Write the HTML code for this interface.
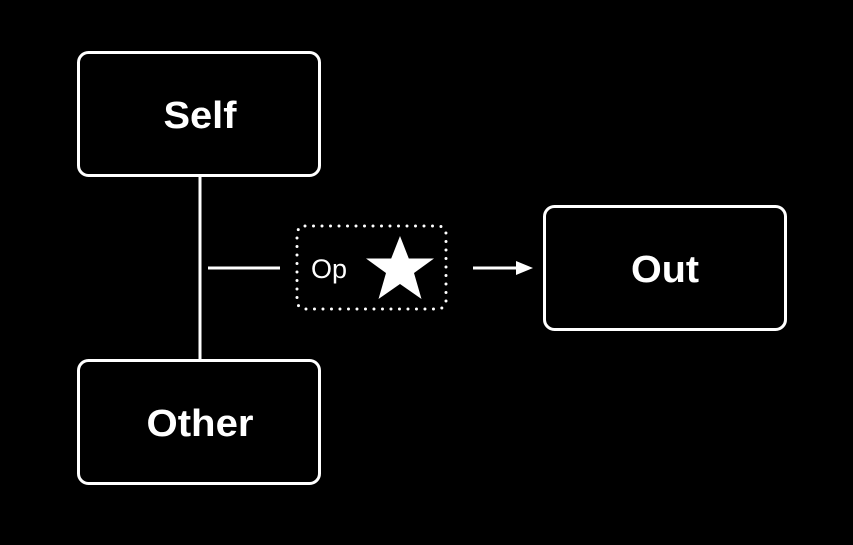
<!DOCTYPE html>
<html><head><meta charset="utf-8"><style>body{margin:0;background:#000}</style></head><body>
<svg width="853" height="545" xmlns="http://www.w3.org/2000/svg" style="display:block">
<rect width="853" height="545" fill="#000"/>
<g fill="none" stroke="#fff" stroke-width="3">
<rect x="78.5" y="52.5" width="241" height="123" rx="10"/>
<rect x="78.5" y="360.5" width="241" height="123" rx="10"/>
<rect x="544.5" y="206.5" width="241" height="123" rx="10"/>
<line x1="200" y1="176" x2="200" y2="360"/>
<line x1="208" y1="268" x2="280" y2="268"/>
<line x1="473" y1="268" x2="518" y2="268"/>
<rect x="297" y="226" width="149" height="83" rx="8" stroke-width="3" stroke-dasharray="0 8.5" stroke-linecap="round"/>
</g>
<polygon points="516,261 533,268 516,275" fill="#fff"/>
<polygon fill="#fff" points="400,236 408.8,258.5 434,258.5 414,273 421.5,299 400,284 378.5,299 386,273 366,258.5 391.2,258.5"/>
<g font-family="Liberation Sans, sans-serif" fill="#fff" text-anchor="middle">
<text x="200" y="128" font-size="38" font-weight="bold" textLength="73" lengthAdjust="spacingAndGlyphs">Self</text>
<text x="200" y="436" font-size="38" font-weight="bold" textLength="107" lengthAdjust="spacingAndGlyphs">Other</text>
<text x="665" y="282" font-size="38" font-weight="bold" textLength="68" lengthAdjust="spacingAndGlyphs">Out</text>
<text x="329" y="278" font-size="27">Op</text>
</g>
</svg>
</body></html>
